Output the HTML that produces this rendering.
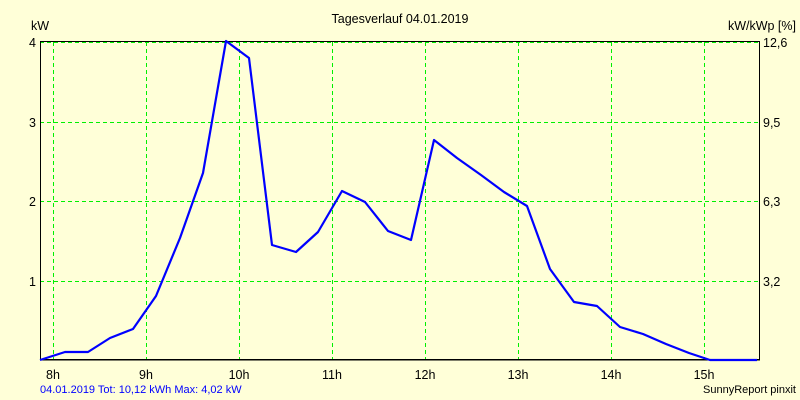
<!DOCTYPE html>
<html><head><style>
html,body{margin:0;padding:0;background:#ffffd8;}
svg{display:block;font-family:"Liberation Sans",sans-serif;}
</style></head><body>
<svg width="800" height="400" viewBox="0 0 800 400">
<rect width="800" height="400" fill="#ffffd8"/>
<g stroke="#00f000" stroke-width="1" stroke-dasharray="4,3" fill="none">
<line x1="53.5" y1="42" x2="53.5" y2="360"/>
<line x1="146.5" y1="42" x2="146.5" y2="360"/>
<line x1="239.5" y1="42" x2="239.5" y2="360"/>
<line x1="332.5" y1="42" x2="332.5" y2="360"/>
<line x1="425.5" y1="42" x2="425.5" y2="360"/>
<line x1="518.5" y1="42" x2="518.5" y2="360"/>
<line x1="611.5" y1="42" x2="611.5" y2="360"/>
<line x1="704.5" y1="42" x2="704.5" y2="360"/>
<line x1="40" y1="42.5" x2="759" y2="42.5"/>
<line x1="40" y1="122.5" x2="759" y2="122.5"/>
<line x1="40" y1="201.5" x2="759" y2="201.5"/>
<line x1="40" y1="281.5" x2="759" y2="281.5"/>
</g>
<path d="M40.5 360V41.5H759.5V360H40.5" fill="none" stroke="#000" stroke-width="1"/>
<line x1="40" y1="359.5" x2="760" y2="359.5" stroke="#000"/>
<polyline fill="none" stroke="#0000ff" stroke-width="2.2" stroke-linejoin="round" points="40,360 65,352 88,352 110,338 133,329 156,296 180,238 203,173 226,41 249,58 272,245 296,252 318,232 342,191 365,202 388,231 411,240 434,140 457,158 481,175 504,192 527,206 550,269 574,302 597,306 620,327 643,334 666,344 689,353 710,360 757,360"/>
<g font-size="12.5" fill="#000">
<text x="400" y="23" text-anchor="middle">Tagesverlauf 04.01.2019</text>
<text x="31" y="30">kW</text>
<text x="796" y="30" text-anchor="end">kW/kWp [%]</text>
<text x="36" y="47" text-anchor="end">4</text>
<text x="36" y="127" text-anchor="end">3</text>
<text x="36" y="206" text-anchor="end">2</text>
<text x="36" y="286" text-anchor="end">1</text>
<text x="763" y="47">12,6</text>
<text x="763" y="127">9,5</text>
<text x="763" y="206">6,3</text>
<text x="763" y="286">3,2</text>
<text x="53" y="379" text-anchor="middle">8h</text>
<text x="146" y="379" text-anchor="middle">9h</text>
<text x="239" y="379" text-anchor="middle">10h</text>
<text x="332" y="379" text-anchor="middle">11h</text>
<text x="425" y="379" text-anchor="middle">12h</text>
<text x="518" y="379" text-anchor="middle">13h</text>
<text x="611" y="379" text-anchor="middle">14h</text>
<text x="704" y="379" text-anchor="middle">15h</text>
</g>
<text x="40" y="393" font-size="11" fill="#0000ff">04.01.2019 Tot: 10,12 kWh Max: 4,02 kW</text>
<text x="796" y="393" font-size="11" fill="#000" text-anchor="end">SunnyReport pinxit</text>
</svg>
</body></html>
